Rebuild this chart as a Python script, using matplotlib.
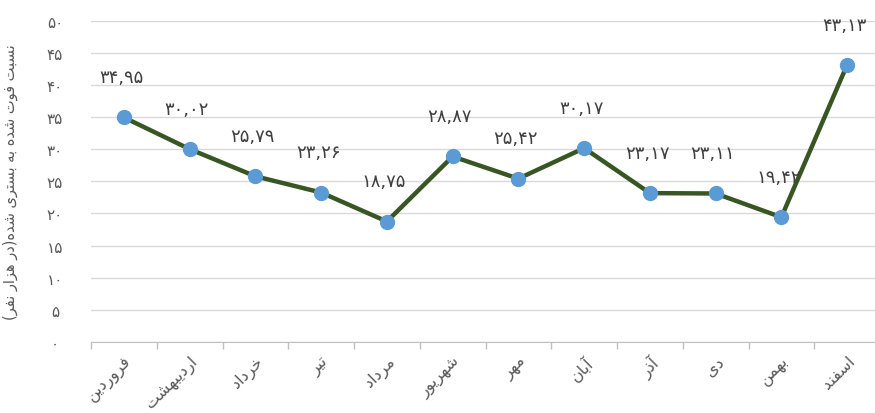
import matplotlib
matplotlib.use("Agg")
import matplotlib.pyplot as plt

months = ["فروردین", "اردیبهشت", "خرداد", "تیر", "مرداد", "شهریور",
          "مهر", "آبان", "آذر", "دی", "بهمن", "اسفند"]
values = [34.95, 30.02, 25.79, 23.26, 18.75, 28.87, 25.42, 30.17, 23.17, 23.11, 19.42, 43.13]
yticks = [0, 5, 10, 15, 20, 25, 30, 35, 40, 45, 50]
ylabel = "نسبت فوت شده به بستری شده(در هزار نفر)"

# --- minimal Arabic/Persian shaping (isolated, final, initial, medial) ---
FORMS = {
    'ا': (0xFE8D, 0xFE8E, None, None),
    'آ': (0xFE81, 0xFE82, None, None),
    'ب': (0xFE8F, 0xFE90, 0xFE91, 0xFE92),
    'ت': (0xFE95, 0xFE96, 0xFE97, 0xFE98),
    'خ': (0xFEA5, 0xFEA6, 0xFEA7, 0xFEA8),
    'د': (0xFEA9, 0xFEAA, None, None),
    'ذ': (0xFEAB, 0xFEAC, None, None),
    'ر': (0xFEAD, 0xFEAE, None, None),
    'ز': (0xFEAF, 0xFEB0, None, None),
    'س': (0xFEB1, 0xFEB2, 0xFEB3, 0xFEB4),
    'ش': (0xFEB5, 0xFEB6, 0xFEB7, 0xFEB8),
    'ف': (0xFED1, 0xFED2, 0xFED3, 0xFED4),
    'م': (0xFEE1, 0xFEE2, 0xFEE3, 0xFEE4),
    'ن': (0xFEE5, 0xFEE6, 0xFEE7, 0xFEE8),
    'ه': (0xFEE9, 0xFEEA, 0xFEEB, 0xFEEC),
    'و': (0xFEED, 0xFEEE, None, None),
    'ی': (0xFEEF, 0xFEF0, 0xFEF3, 0xFEF4),
}
MIRROR = {'(': ')', ')': '('}


def shape(text):
    chars = list(text)
    n = len(chars)
    out = []
    for i, c in enumerate(chars):
        if c not in FORMS:
            out.append(MIRROR.get(c, c))
            continue
        f = FORMS[c]
        prev_ok = i > 0 and chars[i - 1] in FORMS and FORMS[chars[i - 1]][2] is not None
        next_ok = f[2] is not None and i + 1 < n and chars[i + 1] in FORMS
        if prev_ok and next_ok:
            cp = f[3]
        elif prev_ok:
            cp = f[1]
        elif next_ok:
            cp = f[2]
        else:
            cp = f[0]
        out.append(chr(cp))
    return "".join(reversed(out))


def fa_digits(s):
    return s.translate(str.maketrans("0123456789", "۰۱۲۳۴۵۶۷۸۹"))


plt.rcParams['font.family'] = ['DejaVu Sans']

fig = plt.figure(figsize=(8.75, 4.14), dpi=100)
ax = fig.add_axes([91 / 875, 1 - 343 / 414, 789 / 875, (343 - 21.7) / 414])

x = list(range(len(months)))
ax.plot(x, values, color="#375623", lw=3.2, marker="o", markersize=10,
        markerfacecolor="#5B9BD5", markeredgecolor="#5B9BD5", zorder=3)

for xi, v in zip(x, values):
    ax.annotate(fa_digits(f"{v:.2f}".replace(".", ",")), (xi, v),
                xytext=(-2, 29), textcoords="offset points",
                ha="center", va="center", fontsize=13, color="#404040")

ax.set_xlim(-0.5, len(months) - 0.5)
ax.set_ylim(0, 50)
ax.set_yticks(yticks)
ax.set_yticklabels([fa_digits(str(t)) for t in yticks], fontsize=11, color="#595959")
for lab in ax.get_yticklabels():
    lab.set_horizontalalignment("center")
ax.tick_params(axis="y", length=0, pad=26)
ax.yaxis.grid(True, color="#D9D9D9", lw=1)
ax.set_axisbelow(True)

ax.set_xticks(x)
ax.set_xticklabels([shape(m) for m in months], rotation=45, ha="right",
                   rotation_mode="anchor", fontsize=11.5, color="#595959")
ax.tick_params(axis="x", which="major", length=0, pad=8)
ax.set_xticks([i - 0.5 for i in range(len(months) + 1)], minor=True)
ax.tick_params(axis="x", which="minor", length=5, color="#BFBFBF", width=1)

for s in ["top", "right", "left"]:
    ax.spines[s].set_visible(False)
ax.spines["bottom"].set_color("#BFBFBF")

ax.set_ylabel(shape(ylabel), fontsize=10.5, color="#595959")
ax.yaxis.set_label_coords(-0.0925, 0.5)

fig.savefig("out.png", dpi=100)
